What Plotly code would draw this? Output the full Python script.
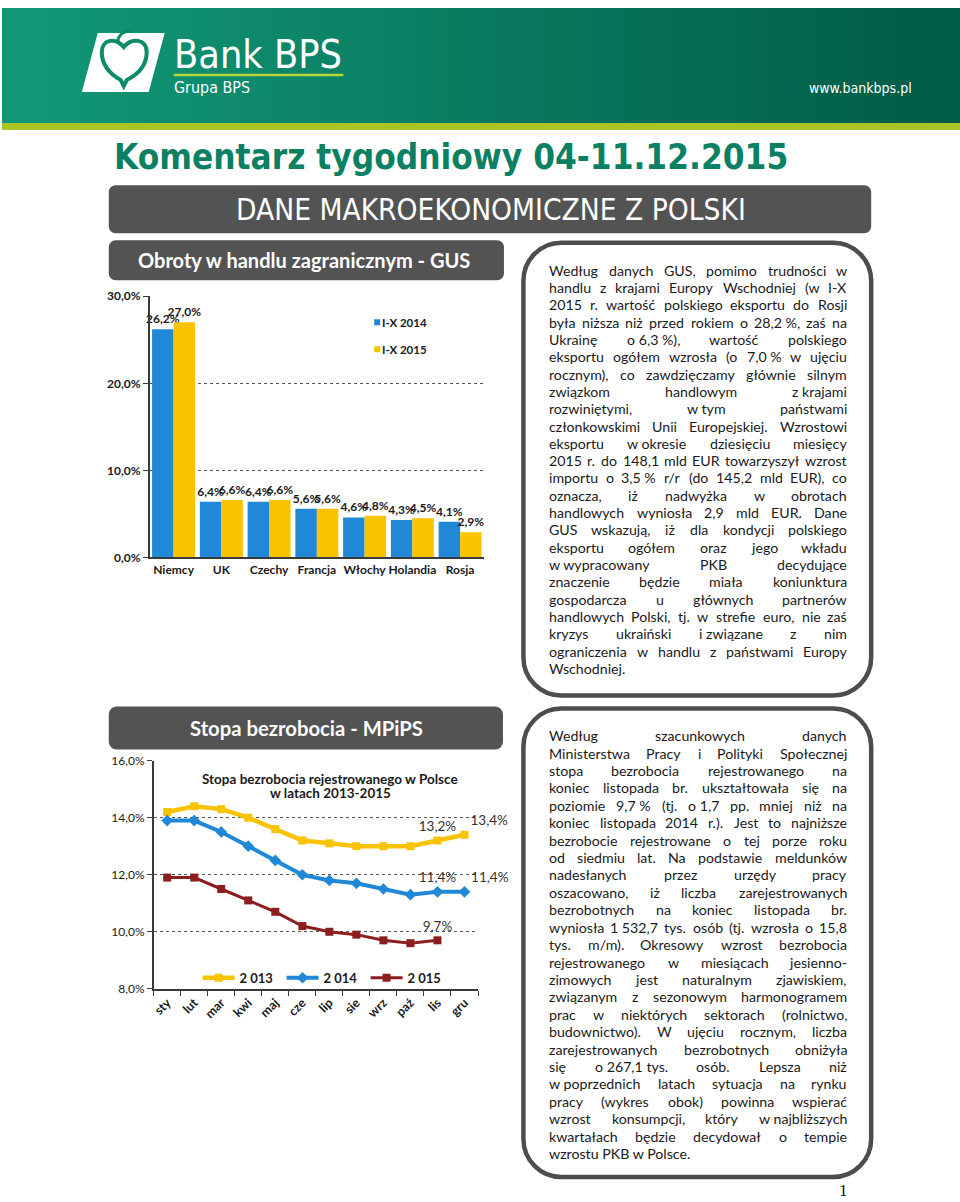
import os, glob, struct
import plotly.graph_objects as go

W, H = 960, 1202

# ---------------- data ----------------
countries = ['Niemcy', 'UK', 'Czechy', 'Francja', 'Włochy', 'Holandia', 'Rosja']
share_2014 = [26.2, 6.4, 6.4, 5.6, 4.6, 4.3, 4.1]
share_2015 = [27.0, 6.6, 6.6, 5.6, 4.8, 4.5, 2.9]
bar_series = ['I-X 2014', 'I-X 2015']
bar_tickvals = [0, 10, 20, 30]
bar_ticktext = ['0,0%', '10,0%', '20,0%', '30,0%']

months = ['sty', 'lut', 'mar', 'kwi', 'maj', 'cze', 'lip', 'sie', 'wrz', 'paź', 'lis', 'gru']
rate_2013 = [14.2, 14.4, 14.3, 14.0, 13.6, 13.2, 13.1, 13.0, 13.0, 13.0, 13.2, 13.4]
rate_2014 = [13.9, 13.9, 13.5, 13.0, 12.5, 12.0, 11.8, 11.7, 11.5, 11.3, 11.4, 11.4]
rate_2015 = [11.9, 11.9, 11.5, 11.1, 10.7, 10.2, 10.0, 9.9, 9.7, 9.6, 9.7]
line_series = ['2 013', '2 014', '2 015']
labelled_points = [[10, 11], [10, 11], [10]]
line_tickvals = [8, 10, 12, 14, 16]
line_ticktext = ['8,0%', '10,0%', '12,0%', '14,0%', '16,0%']

page_title = 'Komentarz tygodniowy 04-11.12.2015'
banner_title = 'DANE MAKROEKONOMICZNE Z POLSKI'
trade_title = 'Obroty w handlu zagranicznym - GUS'
unemp_title = 'Stopa bezrobocia - MPiPS'
unemp_chart_title = ['Stopa bezrobocia rejestrowanego w Polsce', 'w latach 2013-2015']

NB = '\u00a0'
trade_text = [
    'Według danych GUS, pomimo trudności w',
    'handlu z krajami Europy Wschodniej (w I-X',
    '2015 r. wartość polskiego eksportu do Rosji',
    'była niższa niż przed rokiem o 28,2' + NB + '%, zaś na',
    'Ukrainę o' + NB + '6,3' + NB + '%), wartość polskiego',
    'eksportu ogółem wzrosła (o 7,0' + NB + '% w ujęciu',
    'rocznym), co zawdzięczamy głównie silnym',
    'związkom handlowym z' + NB + 'krajami',
    'rozwiniętymi, w' + NB + 'tym państwami',
    'członkowskimi Unii Europejskiej. Wzrostowi',
    'eksportu w' + NB + 'okresie dziesięciu miesięcy',
    '2015 r. do 148,1 mld EUR towarzyszył wzrost',
    'importu o 3,5' + NB + '% r/r (do 145,2 mld EUR), co',
    'oznacza, iż nadwyżka w obrotach',
    'handlowych wyniosła 2,9 mld EUR. Dane',
    'GUS wskazują, iż dla kondycji polskiego',
    'eksportu ogółem oraz jego wkładu',
    'w' + NB + 'wypracowany PKB decydujące',
    'znaczenie będzie miała koniunktura',
    'gospodarcza u głównych partnerów',
    'handlowych Polski, tj. w strefie euro, nie zaś',
    'kryzys ukraiński i' + NB + 'związane z nim',
    'ograniczenia w handlu z państwami Europy',
    'Wschodniej.',
]
unemp_text = [
    'Według szacunkowych danych',
    'Ministerstwa Pracy i Polityki Społecznej',
    'stopa bezrobocia rejestrowanego na',
    'koniec listopada br. ukształtowała się na',
    'poziomie 9,7' + NB + '% (tj. o' + NB + '1,7 pp. mniej niż na',
    'koniec listopada 2014 r.). Jest to najniższe',
    'bezrobocie rejestrowane o tej porze roku',
    'od siedmiu lat. Na podstawie meldunków',
    'nadesłanych przez urzędy pracy',
    'oszacowano, iż liczba zarejestrowanych',
    'bezrobotnych na koniec listopada br.',
    'wyniosła 1' + NB + '532,7 tys. osób (tj. wzrosła o 15,8',
    'tys. m/m). Okresowy wzrost bezrobocia',
    'rejestrowanego w miesiącach jesienno-',
    'zimowych jest naturalnym zjawiskiem,',
    'związanym z sezonowym harmonogramem',
    'prac w niektórych sektorach (rolnictwo,',
    'budownictwo). W ujęciu rocznym, liczba',
    'zarejestrowanych bezrobotnych obniżyła',
    'się o' + NB + '267,1' + NB + 'tys. osób. Lepsza niż',
    'w' + NB + 'poprzednich latach sytuacja na rynku',
    'pracy (wykres obok) powinna wspierać',
    'wzrost konsumpcji, który w' + NB + 'najbliższych',
    'kwartałach będzie decydował o tempie',
    'wzrostu PKB w Polsce.',
]

# ---------------- font metrics (for justified text / fitting) ----------------
FONT_DIRS = ['/usr/share/fonts', '/usr/local/share/fonts',
             os.path.expanduser('~/.fonts'), os.path.expanduser('~/.local/share/fonts')]


def find_font(name):
    for d in FONT_DIRS:
        if os.path.isdir(d):
            hits = sorted(glob.glob(os.path.join(d, '**', name), recursive=True))
            if hits:
                return hits[0]
    return None


class Metrics:
    def __init__(self, path, fallback=0.55):
        self.fallback = fallback
        self.cache = {}
        self.ok = False
        if path:
            try:
                self._load(path)
                self.ok = True
            except Exception:
                self.ok = False

    def _load(self, path):
        d = open(path, 'rb').read()
        base = struct.unpack('>I', d[12:16])[0] if d[:4] == b'ttcf' else 0
        n = struct.unpack('>H', d[base + 4:base + 6])[0]
        t = {}
        for i in range(n):
            r = base + 12 + 16 * i
            t[d[r:r + 4].decode('latin1')] = struct.unpack('>I', d[r + 8:r + 12])[0]
        self.upem = struct.unpack('>H', d[t['head'] + 18:t['head'] + 20])[0]
        nhm = struct.unpack('>H', d[t['hhea'] + 34:t['hhea'] + 36])[0]
        hm = t['hmtx']
        self.adv = struct.unpack('>' + 'Hh' * nhm, d[hm:hm + 4 * nhm])[0::2]
        cm = t['cmap']
        ns = struct.unpack('>H', d[cm + 2:cm + 4])[0]
        sub = None
        for i in range(ns):
            pid, eid, off = struct.unpack('>HHI', d[cm + 4 + 8 * i:cm + 12 + 8 * i])
            fmt = struct.unpack('>H', d[cm + off:cm + off + 2])[0]
            if fmt == 4 and ((pid == 3 and eid in (1, 10)) or pid == 0):
                sub = cm + off
                break
        s2 = struct.unpack('>H', d[sub + 6:sub + 8])[0]
        s = s2 // 2
        p = sub + 14
        self.ends = struct.unpack('>%dH' % s, d[p:p + s2]); p += s2 + 2
        self.starts = struct.unpack('>%dH' % s, d[p:p + s2]); p += s2
        self.deltas = struct.unpack('>%dh' % s, d[p:p + s2]); p += s2
        self.ro_pos = p
        self.ros = struct.unpack('>%dH' % s, d[p:p + s2])
        self.d = d

    def glyph(self, c):
        for i, e in enumerate(self.ends):
            if e >= c:
                if self.starts[i] > c:
                    return 0
                if self.ros[i] == 0:
                    return (c + self.deltas[i]) & 0xFFFF
                a = self.ro_pos + 2 * i + self.ros[i] + 2 * (c - self.starts[i])
                g = struct.unpack('>H', self.d[a:a + 2])[0]
                return (g + self.deltas[i]) & 0xFFFF if g else 0
        return 0

    def em(self, text):
        tot = 0.0
        for ch in text:
            if ch not in self.cache:
                if self.ok:
                    c = 0x20 if ch == NB else ord(ch)
                    g = self.glyph(c)
                    self.cache[ch] = self.adv[min(g, len(self.adv) - 1)] / self.upem
                else:
                    self.cache[ch] = 0.28 if ch in (' ', NB) else self.fallback
            tot += self.cache[ch]
        return tot


def pick(cands):
    for fam, reg, bold in cands:
        r, b = find_font(reg), find_font(bold)
        if r and b:
            return fam, Metrics(r), Metrics(b)
    fam = cands[-1][0]
    return fam, Metrics(None), Metrics(None, 0.6)


BODY, BODY_M, BODY_MB = pick([('Lato', 'Lato-Regular.ttf', 'Lato-Bold.ttf'),
                              ('Open Sans', 'OpenSans-Regular.ttf', 'OpenSans-Bold.ttf'),
                              ('DejaVu Sans', 'DejaVuSans.ttf', 'DejaVuSans-Bold.ttf')])
NARROW, NARROW_M, NARROW_MB = pick([('Liberation Sans Narrow', 'LiberationSansNarrow-Regular.ttf', 'LiberationSansNarrow-Bold.ttf'),
                                    ('DejaVu Sans Condensed', 'DejaVuSansCondensed.ttf', 'DejaVuSansCondensed-Bold.ttf'),
                                    ('Roboto', 'Roboto-Regular.ttf', 'Roboto-Bold.ttf'),
                                    ('Liberation Sans', 'LiberationSans-Regular.ttf', 'LiberationSans-Bold.ttf')])
SERIF = 'Liberation Serif, Times New Roman, serif'


def fit(text, metrics, width, maxsize=200):
    e = metrics.em(text)
    return min(maxsize, width / e) if e > 0 else 14


# The figure is shown 8 px below the top of the page with a height of 1186 px;
# page coordinates (measured on the reference) are mapped into paper coordinates.
TOP, PH = 8.0, 1186.0


def X(x):
    return x / W


def Y(y):
    return 1 - (y - TOP) / PH


annotations = []
shapes = []


def text_at(s, x, y, size, color='#1a1a1a', family=None, weight=400, xanchor='left', yanchor='middle'):
    annotations.append(dict(text=s, x=X(x), y=Y(y), xref='paper', yref='paper', showarrow=False,
                            xanchor=xanchor, yanchor=yanchor, borderpad=0, borderwidth=0,
                            font=dict(family=family or BODY, size=size, color=color, weight=weight)))


def rrect_path(x0, y0, x1, y1, r):
    k = 0.5523 * r
    return (f'M {X(x0 + r)},{Y(y0)} L {X(x1 - r)},{Y(y0)} '
            f'C {X(x1 - r + k)},{Y(y0)} {X(x1)},{Y(y0 + r - k)} {X(x1)},{Y(y0 + r)} '
            f'L {X(x1)},{Y(y1 - r)} '
            f'C {X(x1)},{Y(y1 - r + k)} {X(x1 - r + k)},{Y(y1)} {X(x1 - r)},{Y(y1)} '
            f'L {X(x0 + r)},{Y(y1)} '
            f'C {X(x0 + r - k)},{Y(y1)} {X(x0)},{Y(y1 - r + k)} {X(x0)},{Y(y1 - r)} '
            f'L {X(x0)},{Y(y0 + r)} '
            f'C {X(x0)},{Y(y0 + r - k)} {X(x0 + r - k)},{Y(y0)} {X(x0 + r)},{Y(y0)} Z')


def rrect(x0, y0, x1, y1, r, fill=None, line=None, lw=0):
    shapes.append(dict(type='path', xref='paper', yref='paper', path=rrect_path(x0, y0, x1, y1, r),
                       fillcolor=fill or 'rgba(0,0,0,0)', line=dict(color=line or 'rgba(0,0,0,0)', width=lw),
                       layer='below'))


def poly(pts, fill, line=None, lw=0):
    p = 'M ' + ' L '.join(f'{X(a)},{Y(b)}' for a, b in pts) + ' Z'
    shapes.append(dict(type='path', xref='paper', yref='paper', path=p, fillcolor=fill,
                       line=dict(color=line or 'rgba(0,0,0,0)', width=lw), layer='below'))


# ---------------- header ----------------
c0, c1 = (18, 152, 120), (0, 92, 70)
NSTRIPE = 60
for i in range(NSTRIPE):
    f = i / (NSTRIPE - 1)
    col = 'rgb(%d,%d,%d)' % tuple(round(a + (b - a) * f) for a, b in zip(c0, c1))
    x0 = W * i / NSTRIPE
    shapes.append(dict(type='rect', xref='paper', yref='paper', x0=X(x0), x1=X(x0 + W / NSTRIPE + 1),
                       y0=Y(123), y1=1, fillcolor=col, line=dict(width=0), layer='below'))
shapes.append(dict(type='rect', xref='paper', yref='paper', x0=0, x1=1, y0=Y(130), y1=Y(123),
                   fillcolor='#a9c423', line=dict(width=0), layer='below'))
# logo
poly([(96, 33), (163, 33), (147, 92), (80, 92)], 'white')
apple_pts = [(122, 47), (114, 37), (100, 39), (100, 52), (100, 66), (110, 75), (119, 80),
             (122, 86), (125, 80), (135, 75), (145, 66), (145, 52), (145, 39), (130, 37)]
p = ('M {0} C {1} {2} {3} C {4} {5} {6} L {7} L {8} C {9} {10} {11} C {12} {13} {0} Z').format(
    *[f'{X(a)},{Y(b)}' for a, b in apple_pts])
shapes.append(dict(type='path', xref='paper', yref='paper', path=p, fillcolor='white',
                   line=dict(color='#0d8a68', width=4), layer='below'))
leaf = f'M {X(116)},{Y(41)} C {X(117)},{Y(34)} {X(124)},{Y(30)} {X(131)},{Y(31)}'
shapes.append(dict(type='path', xref='paper', yref='paper', path=leaf,
                   line=dict(color='#0d8a68', width=3), layer='below'))
text_at('Bank BPS', 172, 54, fit('Bank BPS', NARROW_M, 168), color='white', family=NARROW)
shapes.append(dict(type='line', xref='paper', yref='paper', x0=X(172), x1=X(342), y0=Y(75), y1=Y(75),
                   line=dict(color='#b9d531', width=2.5), layer='below'))
text_at('Grupa BPS', 172, 87, fit('Grupa BPS', NARROW_M, 76), color='white', family=NARROW)
text_at('www.bankbps.pl', 912, 88, fit('www.bankbps.pl', NARROW_M, 104), color='white', family=NARROW, xanchor='right')

# ---------------- titles / banners ----------------
text_at(page_title, 112, 157, fit(page_title, NARROW_MB, 675), color='#0c8062', family=NARROW, weight=700)
rrect(107, 185, 871, 233, 7, fill='#535353')
text_at(banner_title, 490, 210, fit(banner_title, NARROW_M, 512), color='white', family=NARROW, xanchor='center')
rrect(107, 240, 503, 280, 7, fill='#535353')
text_at(trade_title, 303, 260, fit(trade_title, BODY_MB, 335), color='white', weight=700, xanchor='center')
rrect(107, 706, 502, 749, 8, fill='#535353')
text_at(unemp_title, 305, 727, fit(unemp_title, BODY_MB, 234), color='white', weight=700, xanchor='center')

# ---------------- justified text boxes ----------------
rrect(522.5, 242.5, 871, 695, 38, line='#4d4d4d', lw=4.5)
rrect(522.5, 708, 871, 1176, 38, line='#4d4d4d', lw=4.5)

TL, TR = 548, 847
nat = max(BODY_M.em(l) for l in trade_text[:-1] + unemp_text[:-1])
BODY_SIZE = min(14.2, 0.985 * (TR - TL) / nat)


def justified(lines, y0, dy):
    for i, line in enumerate(lines):
        y = y0 + i * dy
        toks = line.split(' ')
        if i == len(lines) - 1 or len(toks) == 1:
            text_at(line, TL, y, BODY_SIZE)
            continue
        ws = [BODY_M.em(t) * BODY_SIZE for t in toks]
        gap = (TR - TL - sum(ws)) / (len(toks) - 1)
        x = TL
        for j, (t, w) in enumerate(zip(toks, ws)):
            if j == 0:
                text_at(t, TL, y, BODY_SIZE, xanchor='left')
            elif j == len(toks) - 1:
                text_at(t, TR, y, BODY_SIZE, xanchor='right')
            else:
                text_at(t, x + w / 2, y, BODY_SIZE, xanchor='center')
            x += w + gap


justified(trade_text, 270, 17.3)
justified(unemp_text, 735, 17.4)

text_at('1', 843, 1190, 17, color='#111', family=SERIF, xanchor='center')

# ---------------- bar chart ----------------
BLUE, YELLOW, RED = '#2088d6', '#f9c300', '#8b1e1e'
DARK = '#1a1a1a'


def pct(v):
    return f'{v:.1f}%'.replace('.', ',')


fig = go.Figure()
for name, vals, col in [(bar_series[0], share_2014, BLUE), (bar_series[1], share_2015, YELLOW)]:
    fig.add_trace(go.Bar(x=countries, y=vals, name=name, marker=dict(color=col, line=dict(width=0)),
                         text=[pct(v) for v in vals], textposition='outside', constraintext='none',
                         cliponaxis=False, showlegend=False,
                         textfont=dict(family=BODY, size=12, color=DARK, weight=700),
                         xaxis='x', yaxis='y'))
# bar legend (manual)
for i, (name, col) in enumerate(zip(bar_series, [BLUE, YELLOW])):
    yy = 322 + 27 * i
    shapes.append(dict(type='rect', xref='paper', yref='paper', x0=X(373), x1=X(379), y0=Y(yy + 3), y1=Y(yy - 3),
                       fillcolor=col, line=dict(width=0)))
    text_at(name, 381, yy, 11.5, color=DARK, weight=700)

# ---------------- line chart ----------------
styles = [dict(color=YELLOW, width=4.5, symbol='square', size=8),
          dict(color=BLUE, width=4, symbol='diamond', size=9),
          dict(color=RED, width=3, symbol='square', size=8)]
for name, vals, st, lab in zip(line_series, [rate_2013, rate_2014, rate_2015], styles, labelled_points):
    txt = [pct(v) if i in lab else '' for i, v in enumerate(vals)]
    pos = ['top right' if i == len(months) - 1 else 'top center' for i in range(len(vals))]
    fig.add_trace(go.Scatter(x=months[:len(vals)], y=vals, name=name, mode='lines+markers+text',
                             line=dict(color=st['color'], width=st['width']),
                             marker=dict(symbol=st['symbol'], size=st['size'], color=st['color']),
                             text=txt, textposition=pos, cliponaxis=False,
                             textfont=dict(family=BODY, size=13.5, color='#333333'),
                             xaxis='x2', yaxis='y2'))
CT_SIZE = min(13.5, fit(unemp_chart_title[0], BODY_MB, 265))
text_at(unemp_chart_title[0], 329, 778, CT_SIZE, color=DARK, weight=700, xanchor='center')
text_at(unemp_chart_title[1], 329, 792, CT_SIZE, color=DARK, weight=700, xanchor='center')

AX = '#3a3a3a'
fig.update_layout(
    width=W, height=H, autosize=False, margin=dict(l=0, r=0, t=0, b=0),
    paper_bgcolor='white', plot_bgcolor='rgba(0,0,0,0)',
    barmode='group', bargap=0.1, bargroupgap=0,
    xaxis=dict(domain=[X(148), X(483)], anchor='y', type='category', showline=True, linecolor=AX,
               linewidth=1.5, ticks='', showgrid=False, fixedrange=True, tickangle=0,
               tickfont=dict(family=BODY, size=12, color=DARK, weight=700)),
    yaxis=dict(domain=[Y(557), Y(296)], anchor='x', range=[0, 30], tickvals=bar_tickvals,
               ticktext=bar_ticktext, showline=True, linecolor=AX, linewidth=1.5, ticks='outside',
               ticklen=5, tickcolor=AX, showgrid=True, gridcolor='#555555', griddash='dot', gridwidth=1,
               zeroline=False, fixedrange=True,
               tickfont=dict(family=BODY, size=12, color=DARK, weight=700)),
    xaxis2=dict(domain=[X(152), X(477)], anchor='y2', type='category', categoryarray=months,
                showline=True, linecolor=AX, linewidth=1.5, ticks='outside', tickson='boundaries',
                ticklen=5, tickcolor=AX, tickangle=-45, showgrid=False, fixedrange=True,
                range=[-0.5, len(months) - 0.5],
                tickfont=dict(family=BODY, size=12.5, color=DARK, weight=700)),
    yaxis2=dict(domain=[Y(988), Y(760)], anchor='x2', range=[8, 16], tickvals=line_tickvals,
                ticktext=line_ticktext, showline=True, linecolor=AX, linewidth=1.5, ticks='outside',
                ticklen=5, tickcolor=AX, showgrid=True, gridcolor='#555555', griddash='dot', gridwidth=1,
                zeroline=False, fixedrange=True,
                tickfont=dict(family=BODY, size=12, color=DARK)),
    showlegend=True,
    legend=dict(orientation='h', x=X(196), y=Y(977), xanchor='left', yanchor='middle',
                bgcolor='rgba(0,0,0,0)', itemwidth=32, entrywidth=37, entrywidthmode='pixels',
                font=dict(family=BODY, size=13, color=DARK, weight=700), itemclick=False,
                itemdoubleclick=False),
    annotations=annotations, shapes=shapes,
)

fig.write_html('out.html')
